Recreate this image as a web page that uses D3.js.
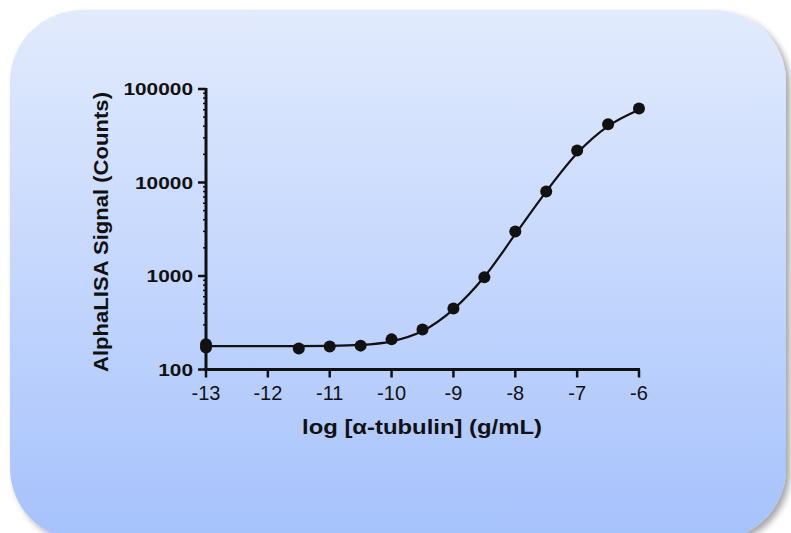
<!DOCTYPE html>
<html>
<head>
<meta charset="utf-8">
<script src="https://cdn.jsdelivr.net/npm/d3@7"></script>
<style>
  body { margin: 0; background: #fff; }
  svg { display: block; }
  text { font-family: "Liberation Sans", Arial, sans-serif; fill: #111; }
</style>
</head>
<body>
<svg id="chart"></svg>
<script>
// measured points (log g/mL, counts)
const logConc = [-13, -13, -11.5, -11, -10.5, -10, -9.5, -9, -8.5, -8, -7.5, -7, -6.5, -6];
const signal  = [186, 172, 168, 176, 180, 210, 268, 450, 970, 3000, 8000, 22000, 42000, 62000];

// fitted curve
const fitX = [-13, -12, -11.5, -11, -10.5, -10, -9.5, -9, -8.5, -8, -7.5, -7, -6.5, -6];
const fitY = [178, 178, 178, 179, 183, 200, 258, 440, 980, 2800, 8000, 20500, 40000, 60000];

const xTicks = [-13, -12, -11, -10, -9, -8, -7, -6];
const yTicks = [100, 1000, 10000, 100000];

const width = 791, height = 533;

const svg = d3.select("#chart")
    .attr("width", width)
    .attr("height", height);

// background panel
const defs = svg.append("defs");
const grad = defs.append("linearGradient")
    .attr("id", "bg").attr("x1", 0).attr("y1", 0).attr("x2", 0).attr("y2", 1);
grad.append("stop").attr("offset", "0%").attr("stop-color", "#e2ebfd");
grad.append("stop").attr("offset", "100%").attr("stop-color", "#a6c2fc");

const shadow = defs.append("filter").attr("id", "shadow")
    .attr("x", "-10%").attr("y", "-10%").attr("width", "120%").attr("height", "120%");
shadow.append("feDropShadow")
    .attr("dx", 4).attr("dy", 4).attr("stdDeviation", 3)
    .attr("flood-color", "#000").attr("flood-opacity", 0.35);

svg.append("rect")
    .attr("x", 10).attr("y", 10)
    .attr("width", 776).attr("height", 530)
    .attr("rx", 72).attr("ry", 72)
    .attr("fill", "url(#bg)")
    .attr("filter", "url(#shadow)");

const x = d3.scaleLinear().domain([-13, -6]).range([206, 639]);
const y = d3.scaleLog().domain([100, 100000]).range([369.5, 89]);

// y axis
const yAxis = svg.append("g").attr("transform", `translate(${x(-13)},0)`);
yAxis.append("line")
    .attr("y1", y(100000) - 1).attr("y2", y(100) + 1.5)
    .attr("stroke", "#111").attr("stroke-width", 3);

const minor = y.ticks().filter(v => !yTicks.includes(v));
yAxis.selectAll(".minor")
    .data(minor)
    .enter().append("line")
    .attr("x1", -3).attr("x2", 0)
    .attr("y1", d => y(d)).attr("y2", d => y(d))
    .attr("stroke", "#111").attr("stroke-width", 1.5);

yAxis.selectAll(".major")
    .data(yTicks)
    .enter().append("line")
    .attr("x1", -8).attr("x2", 0)
    .attr("y1", d => y(d)).attr("y2", d => y(d))
    .attr("stroke", "#111").attr("stroke-width", 2.5);

yAxis.selectAll(".ylab")
    .data(yTicks)
    .enter().append("text")
    .attr("x", -13)
    .attr("y", d => y(d) + 6)
    .attr("text-anchor", "end")
    .attr("font-size", 17)
    .attr("font-weight", "bold")
    .attr("textLength", d => String(d).length * 11.6)
    .attr("lengthAdjust", "spacingAndGlyphs")
    .text(d => d);

// x axis
const xAxis = svg.append("g").attr("transform", `translate(0,${y(100)})`);
xAxis.append("line")
    .attr("x1", x(-13) - 1.5).attr("x2", x(-6) + 1)
    .attr("stroke", "#111").attr("stroke-width", 3);

xAxis.selectAll(".xtick")
    .data(xTicks)
    .enter().append("line")
    .attr("x1", d => x(d)).attr("x2", d => x(d))
    .attr("y1", 0).attr("y2", 8)
    .attr("stroke", "#111").attr("stroke-width", 2.5);

xAxis.selectAll(".xlab")
    .data(xTicks)
    .enter().append("text")
    .attr("x", d => x(d))
    .attr("y", 30)
    .attr("text-anchor", "middle")
    .attr("font-size", 20)
    .text(d => d);

// axis titles
svg.append("text")
    .attr("x", 422).attr("y", 434)
    .attr("text-anchor", "middle")
    .attr("font-size", 20)
    .attr("font-weight", "bold")
    .attr("textLength", 240)
    .attr("lengthAdjust", "spacingAndGlyphs")
    .text("log [α-tubulin] (g/mL)");

svg.append("text")
    .attr("transform", "translate(108,232) rotate(-90)")
    .attr("text-anchor", "middle")
    .attr("font-size", 21)
    .attr("font-weight", "bold")
    .attr("textLength", 280)
    .attr("lengthAdjust", "spacingAndGlyphs")
    .text("AlphaLISA Signal (Counts)");

// fitted curve
const fit = fitX.map((v, i) => [v, fitY[i]]);

svg.append("path")
    .datum(fit)
    .attr("d", d3.line().x(d => x(d[0])).y(d => y(d[1])).curve(d3.curveMonotoneX))
    .attr("fill", "none")
    .attr("stroke", "#111")
    .attr("stroke-width", 2.2);

// points
svg.selectAll(".pt")
    .data(logConc.map((v, i) => [v, signal[i]]))
    .enter().append("circle")
    .attr("cx", d => x(d[0]))
    .attr("cy", d => y(d[1]))
    .attr("r", 6)
    .attr("fill", "#111");
</script>
</body>
</html>
